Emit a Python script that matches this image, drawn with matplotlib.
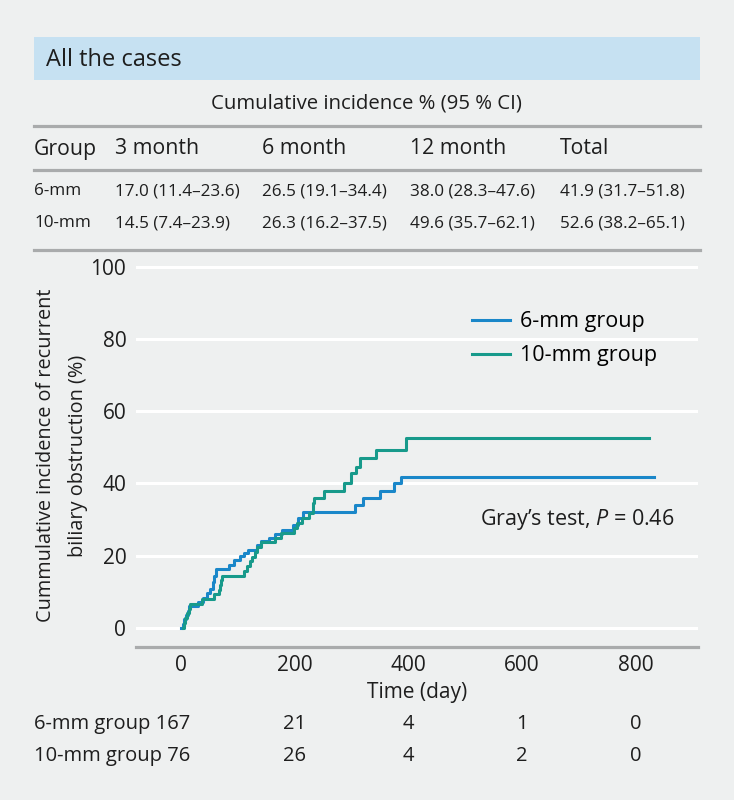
import matplotlib
matplotlib.use("Agg")
import matplotlib.pyplot as plt
from matplotlib.lines import Line2D
from matplotlib.patches import Rectangle
import matplotlib.transforms as mtransforms

plt.rcParams['font.family'] = ['Open Sans', 'DejaVu Sans']
plt.rcParams['mathtext.fontset'] = 'custom'
plt.rcParams['mathtext.it'] = 'Open Sans:italic'
plt.rcParams['mathtext.rm'] = 'Open Sans'

# ---- data ----
title = "All the cases"
table_title = "Cumulative incidence % (95 % CI)"
table_header = ["Group", "3 month", "6 month", "12 month", "Total"]
row_6mm = ["6-mm", "17.0 (11.4–23.6)", "26.5 (19.1–34.4)", "38.0 (28.3–47.6)", "41.9 (31.7–51.8)"]
row_10mm = ["10-mm", "14.5 (7.4–23.9)", "26.3 (16.2–37.5)", "49.6 (35.7–62.1)", "52.6 (38.2–65.1)"]

# cumulative incidence step curves (day, %)
days_6mm = [0, 2, 5, 8, 11, 14, 30, 38, 45, 50, 55, 58, 61, 84, 92, 103, 110, 118,
            134, 141, 155, 165, 177, 196, 205, 214, 305, 320, 349, 375, 386, 833]
inc_6mm = [0, 1.2, 2.4, 3.6, 4.8, 6.0, 7.2, 8.4, 9.6, 10.8, 12.6, 14.4, 16.3, 17.5,
           18.7, 19.8, 20.8, 21.7, 23.0, 24.0, 25.0, 26.0, 27.1, 28.5, 30.5, 32.2,
           34.1, 35.9, 37.8, 40.1, 41.9, 41.9]

days_10mm = [2, 4, 7, 10, 13, 16, 37, 58, 66, 68, 70, 72, 110, 115, 120, 125, 130,
             134, 140, 165, 175, 198, 204, 212, 225, 231, 232, 233, 252, 287, 299,
             307, 314, 343, 396, 823]
inc_10mm = [0, 1.3, 2.6, 4.0, 5.3, 6.6, 8.0, 9.3, 10.6, 11.9, 13.2, 14.5, 15.8, 17.1,
            18.4, 19.7, 21.0, 22.4, 23.7, 25.0, 26.3, 27.6, 29.0, 30.4, 31.8, 33.2,
            34.6, 35.9, 37.8, 40.1, 42.8, 44.7, 47.0, 49.3, 52.6, 52.6]

risk_times = [0, 200, 400, 600, 800]
risk_6mm = [167, 21, 4, 1, 0]
risk_10mm = [76, 26, 4, 2, 0]

bg = '#eef0f0'
blue = '#1a87c9'
green = '#179a8b'
rule = '#a9abac'
ink = '#1e1e1e'
W, H = 734, 800


def fx(px):
    return px / W


def fy(py):
    return 1 - py / H


fig = plt.figure(figsize=(W / 100, H / 100), dpi=100, facecolor=bg)

# title banner
fig.add_artist(Rectangle((fx(34), fy(80)), fx(700) - fx(34), fy(37) - fy(80),
                         transform=fig.transFigure, color='#c6e1f2', lw=0))
fig.text(fx(46), fy(60), title, fontsize=17, va='center', ha='left', color=ink)

# table
fig.text(fx(366), fy(104), table_title, fontsize=14.7, ha='center', va='center', color=ink)
for py in [126, 170, 250]:
    fig.add_artist(Line2D([fx(34), fx(700)], [fy(py), fy(py)], transform=fig.transFigure,
                          color=rule, lw=2.3))
col_x = [34, 115, 262, 410, 560]
for cx, s in zip(col_x, table_header):
    fig.text(fx(cx), fy(149), s, fontsize=15.3, ha='left', va='center', color=ink)
for py, row in [(191, row_6mm), (223, row_10mm)]:
    for cx, s in zip(col_x, row):
        fig.text(fx(cx), fy(py), s, fontsize=12.3, ha='left', va='center', color=ink)

# plot area
ax_l, ax_r, ax_t, ax_b = 136, 698, 264, 647
ax = fig.add_axes([fx(ax_l), fy(ax_b), fx(ax_r) - fx(ax_l), fy(ax_t) - fy(ax_b)])
ax.set_facecolor(bg)
ax.set_xlim(-80, 910)
ax.set_ylim(-5.3, 100.8)
ax.set_yticks([0, 20, 40, 60, 80, 100])
ax.set_xticks(risk_times)
ax.yaxis.grid(True, color='white', lw=2.2)
ax.set_axisbelow(True)
for s in ['top', 'right', 'left']:
    ax.spines[s].set_visible(False)
ax.spines['bottom'].set_color(rule)
ax.spines['bottom'].set_linewidth(2.3)
ax.tick_params(length=0, labelsize=15, colors=ink)
ax.tick_params(axis='y', pad=7)
ax.tick_params(axis='x', pad=6)

ax.step(days_6mm, inc_6mm, where='post', color=blue, lw=2.2, label='6-mm group')
ax.step(days_10mm, inc_10mm, where='post', color=green, lw=2.2, label='10-mm group')

ax.set_xlabel('Time (day)', fontsize=15, labelpad=4, color=ink)
ax.set_ylabel('Cummulative incidence of recurrent\nbiliary obstruction (%)', fontsize=14.3,
              labelpad=2, color=ink, linespacing=1.75)

ax.legend(loc='upper left',
          bbox_to_anchor=((466 - ax_l) / (ax_r - ax_l), 1 - (305 - ax_t) / (ax_b - ax_t)),
          frameon=False, fontsize=15.5, handlelength=1.75, handletextpad=0.45,
          labelspacing=0.6, borderaxespad=0, borderpad=0.3)

ax.text((480 - ax_l) / (ax_r - ax_l), 1 - (520 - ax_t) / (ax_b - ax_t),
        'Gray’s test, $P$ = 0.46', transform=ax.transAxes, fontsize=15.5,
        ha='left', va='center', color=ink)

# number at risk
trans = mtransforms.blended_transform_factory(ax.transData, fig.transFigure)
fig.text(fx(34), fy(724), '6-mm group ' + str(risk_6mm[0]), fontsize=14.5, va='center', color=ink)
fig.text(fx(34), fy(756), '10-mm group ' + str(risk_10mm[0]), fontsize=14.5, va='center', color=ink)
for t, a, b in zip(risk_times[1:], risk_6mm[1:], risk_10mm[1:]):
    ax.text(t, fy(724), str(a), transform=trans, fontsize=14.5, ha='center', va='center', color=ink)
    ax.text(t, fy(756), str(b), transform=trans, fontsize=14.5, ha='center', va='center', color=ink)

fig.savefig('out.png', dpi=100, facecolor=bg)
